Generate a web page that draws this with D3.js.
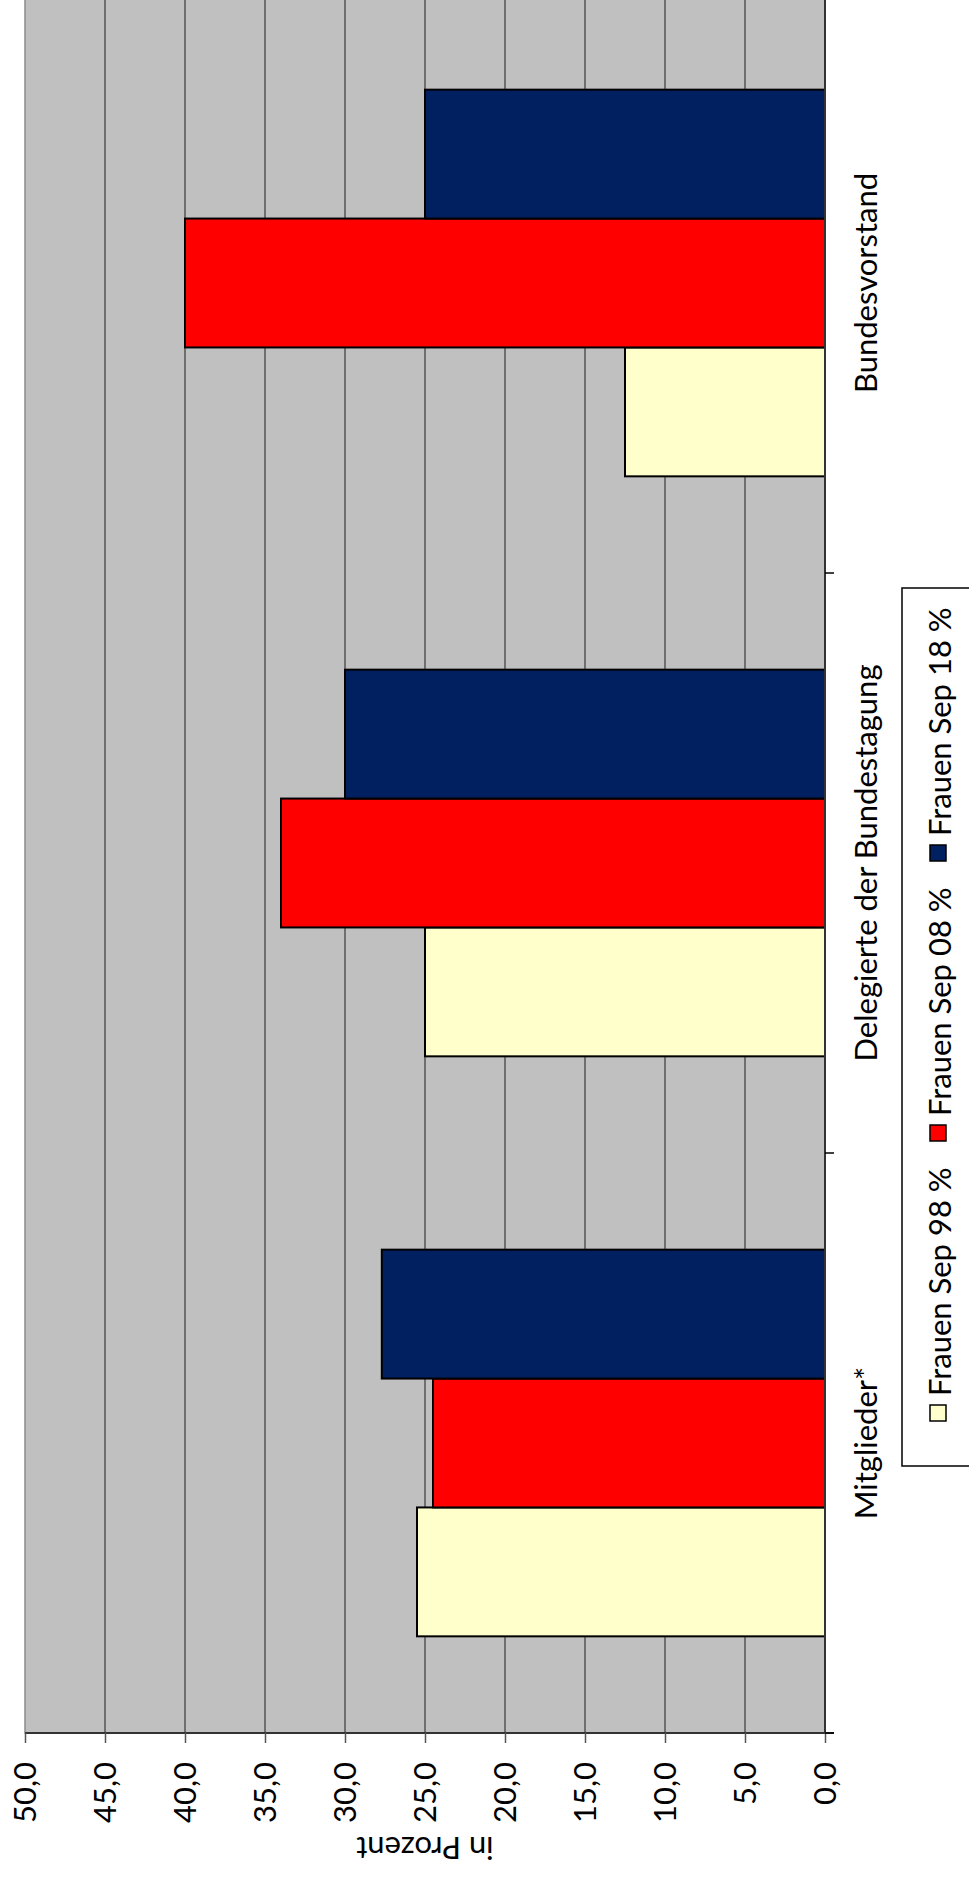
<!DOCTYPE html>
<html>
<head>
<meta charset="utf-8">
<script src="https://cdn.jsdelivr.net/npm/d3@7"></script>
<style>
  body { margin: 0; background: #fff; }
  text { font-family: Lato, "Open Sans", sans-serif; fill: #000; }
</style>
</head>
<body>
<div id="chart"></div>
<script>
const width = 969,
    height = 1881;

// data
const categories = ['Mitglieder*', 'Delegierte der Bundestagung', 'Bundesvorstand'];
const series = ['Frauen Sep 98 %', 'Frauen Sep 08 %', 'Frauen Sep 18 %'];
const sep98 = [25.5, 25.0, 12.5];
const sep08 = [24.5, 34.0, 40.0];
const sep18 = [27.7, 30.0, 25.0];
const colors = ['#FFFFCC', '#FF0000', '#002060'];
const tickValues = [0, 5, 10, 15, 20, 25, 30, 35, 40, 45, 50];

const values = [sep98, sep08, sep18];
const fontSize = '31px';

// plot frame (the chart is drawn turned on its side)
const plotLeft = 25,
    plotRight = 825,
    plotTop = -7,
    plotBottom = 1733;

var svg = d3.select('#chart')
    .append('svg')
    .attr('width', width)
    .attr('height', height);

const xScale = d3.scaleLinear()
    .domain([0, 50])
    .range([plotRight, plotLeft]);

const yScale = d3.scaleBand()
    .domain(categories)
    .range([plotBottom, plotTop]);

const ySub = d3.scaleBand()
    .domain(series)
    .range([yScale.bandwidth(), 0])
    .paddingOuter(0.75);

// background
svg.append('rect')
    .attr('x', plotLeft)
    .attr('y', plotTop)
    .attr('width', plotRight - plotLeft)
    .attr('height', plotBottom - plotTop)
    .attr('fill', '#C0C0C0')
    .attr('stroke', '#8a8a8a')
    .attr('stroke-width', 1.5);

// gridlines
svg.append('g')
    .selectAll('line')
    .data(tickValues.filter(d => d > 0 && d < 50))
    .enter()
    .append('line')
    .attr('x1', d => xScale(d))
    .attr('x2', d => xScale(d))
    .attr('y1', plotTop)
    .attr('y2', plotBottom)
    .attr('stroke', '#555')
    .attr('stroke-width', 1.5);

// bars
const rows = [];
categories.forEach((c, ci) => {
    series.forEach((s, si) => {
        rows.push({ cat: c, ser: s, value: values[si][ci], color: colors[si] });
    });
});

svg.append('g')
    .selectAll('rect')
    .data(rows)
    .enter()
    .append('rect')
    .attr('x', d => xScale(d.value))
    .attr('y', d => yScale(d.cat) + ySub(d.ser))
    .attr('width', d => xScale(0) - xScale(d.value))
    .attr('height', ySub.bandwidth())
    .attr('fill', d => d.color)
    .attr('stroke', '#000')
    .attr('stroke-width', 2);

// value axis (bottom)
const xAxis = d3.axisBottom(xScale)
    .tickValues(tickValues)
    .tickSize(10)
    .tickSizeOuter(0)
    .tickFormat(d => d.toFixed(1).replace('.', ','));

const xAxisG = svg.append('g')
    .attr('class', 'axis')
    .attr('transform', 'translate(0,' + plotBottom + ')')
    .call(xAxis);

xAxisG.select('.domain')
    .attr('stroke', '#333')
    .attr('stroke-width', 2)
    .attr('d', 'M' + plotLeft + ',0H' + (plotRight + 9));
xAxisG.selectAll('.tick line').attr('stroke', '#555').attr('stroke-width', 1.5);
xAxisG.selectAll('.tick text')
    .attr('transform', 'rotate(-90)')
    .attr('x', -29)
    .attr('y', 0)
    .attr('dy', '0.35em')
    .attr('text-anchor', 'end')
    .style('font-size', fontSize)
    .style('font-family', 'Lato, sans-serif');

// category axis (right side, at value 0)
svg.append('line')
    .attr('x1', plotRight)
    .attr('x2', plotRight)
    .attr('y1', plotTop)
    .attr('y2', plotBottom)
    .attr('stroke', '#333')
    .attr('stroke-width', 2);

const bounds = categories.map(c => yScale(c)).concat([plotBottom]);
svg.append('g')
    .selectAll('line')
    .data(bounds)
    .enter()
    .append('line')
    .attr('x1', plotRight)
    .attr('x2', plotRight + 9)
    .attr('y1', d => d)
    .attr('y2', d => d)
    .attr('stroke', '#000')
    .attr('stroke-width', 1.5);

svg.append('g')
    .selectAll('text')
    .data(categories)
    .enter()
    .append('text')
    .attr('transform', d => 'translate(866,' + (yScale(d) + yScale.bandwidth() / 2) + ') rotate(-90)')
    .attr('text-anchor', 'middle')
    .attr('dy', '0.35em')
    .style('font-size', fontSize)
    .text(d => d);

// axis title
svg.append('text')
    .attr('transform', 'translate(' + ((plotLeft + plotRight) / 2) + ',1837) rotate(180)')
    .attr('text-anchor', 'middle')
    .style('font-size', fontSize)
    .text('in Prozent');

// legend
svg.append('rect')
    .attr('x', 902)
    .attr('y', 588)
    .attr('width', 80)
    .attr('height', 878)
    .attr('fill', '#fff')
    .attr('stroke', '#000')
    .attr('stroke-width', 1.5);

const legendY = [1413, 1133, 853];
const legend = svg.append('g')
    .selectAll('g')
    .data(series)
    .enter()
    .append('g')
    .attr('transform', (d, i) => 'translate(938,' + legendY[i] + ')');

legend.append('rect')
    .attr('x', -8)
    .attr('y', -8)
    .attr('width', 16)
    .attr('height', 16)
    .attr('fill', (d, i) => colors[i])
    .attr('stroke', '#000')
    .attr('stroke-width', 1.5);

legend.append('text')
    .attr('transform', 'translate(2,-17) rotate(-90)')
    .attr('text-anchor', 'start')
    .attr('dy', '0.35em')
    .style('font-size', fontSize)
    .text(d => d);
</script>
</body>
</html>
